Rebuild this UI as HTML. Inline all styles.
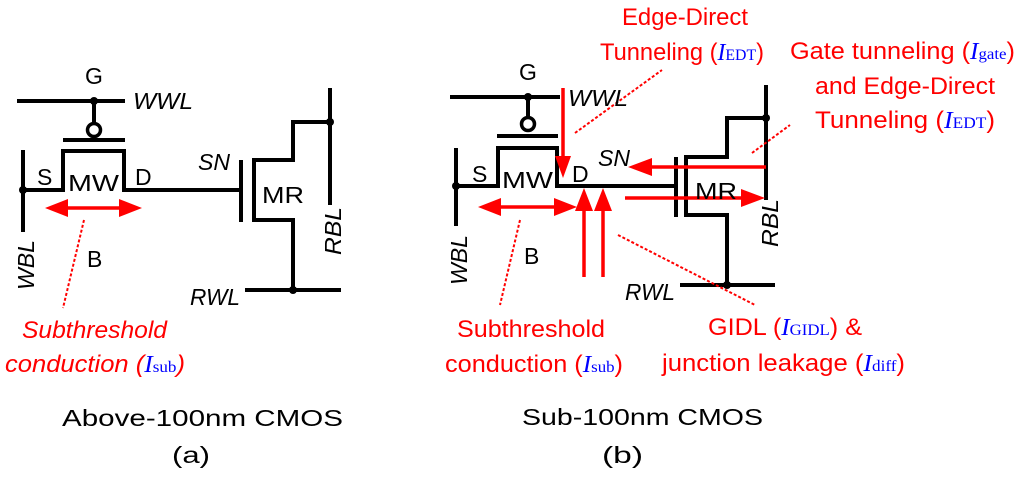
<!DOCTYPE html>
<html><head><meta charset="utf-8"><style>
html,body{margin:0;padding:0;background:#fff;}
svg{display:block;}
text{font-family:"Liberation Sans",sans-serif;}
.k{fill:#000;font-size:23px;}
.ki{fill:#000;font-size:23px;font-style:italic;}
.r{fill:#f00;font-size:24px;}
.b{fill:#00f;font-family:"Liberation Serif",serif;}
</style></head><body>
<svg width="1024" height="477" viewBox="0 0 1024 477" xmlns="http://www.w3.org/2000/svg">
<g stroke="#000" stroke-width="4" fill="none">
<line x1="17" y1="101" x2="125" y2="101"/>
<line x1="94" y1="101" x2="94" y2="124"/>
<circle cx="94" cy="130" r="6.5" stroke-width="3.5"/>
<line x1="63" y1="140" x2="125" y2="140"/>
<polyline points="23,190 63,190 63,151 124,151 124,190 240,190"/>
<line x1="23" y1="150" x2="23" y2="232"/>
<line x1="241" y1="160" x2="241" y2="222"/>
<polyline points="330,122 293,122 293,160 254,160 254,220 293,220 293,290"/>
<line x1="330" y1="88" x2="330" y2="205"/>
<line x1="245" y1="290" x2="341" y2="290"/>
<line x1="450" y1="97" x2="560" y2="97"/>
<line x1="528" y1="97" x2="528" y2="118"/>
<circle cx="528" cy="124" r="6.5" stroke-width="3.5"/>
<line x1="497" y1="136" x2="558" y2="136"/>
<polyline points="456,186 498,186 498,148 557,148 557,186 674,186"/>
<line x1="456" y1="148" x2="456" y2="226"/>
<line x1="676" y1="157" x2="676" y2="217"/>
<polyline points="766,118 727,118 727,157 686,157 686,215 727,215 727,285"/>
<line x1="766" y1="85" x2="766" y2="200"/>
<line x1="680" y1="285" x2="775" y2="285"/>
</g>
<g fill="#000">
<circle cx="94" cy="101" r="4"/><circle cx="23" cy="190" r="4"/><circle cx="330" cy="122" r="4"/><circle cx="293" cy="290" r="4"/>
<circle cx="528" cy="97" r="4"/><circle cx="456" cy="186" r="4"/><circle cx="766" cy="118" r="4"/><circle cx="727" cy="285" r="4"/>
</g>
<g stroke="#f00" stroke-width="3.5" fill="none">
<line x1="60" y1="208" x2="127" y2="208"/>
<line x1="493" y1="207" x2="562" y2="207"/>
<line x1="563" y1="88" x2="563" y2="162"/>
<line x1="584" y1="277" x2="584" y2="204"/>
<line x1="603" y1="277" x2="603" y2="204"/>
<line x1="766" y1="167" x2="645" y2="167"/>
<line x1="625" y1="198" x2="748" y2="198"/>
</g>
<g fill="#f00">
<polygon points="45,208 68,199 68,217"/>
<polygon points="142,208 119,199 119,217"/>
<polygon points="478,207 501,198 501,216"/>
<polygon points="577,207 554,198 554,216"/>
<polygon points="563,178 555,156 571,156"/>
<polygon points="584,188 575,211 593,211"/>
<polygon points="603,188 594,211 612,211"/>
<polygon points="628,167 652,158 652,176"/>
<polygon points="765,198 741,189 741,207"/>
</g>
<g stroke="#f00" stroke-width="2" stroke-dasharray="3,2" fill="none">
<line x1="84" y1="220" x2="63" y2="308"/>
<line x1="520" y1="220" x2="500" y2="305"/>
<line x1="575" y1="133" x2="662" y2="70"/>
<line x1="752" y1="153" x2="790" y2="125"/>
<line x1="618" y1="235" x2="755" y2="305"/>
</g>
<text class="k" x="85" y="84">G</text>
<text class="ki" x="133" y="109" textLength="60" lengthAdjust="spacingAndGlyphs">WWL</text>
<text class="k" x="37" y="185">S</text>
<text class="k" x="68" y="191" font-size="26" textLength="51" lengthAdjust="spacingAndGlyphs">MW</text>
<text class="k" x="135" y="185">D</text>
<text class="ki" x="198" y="170" textLength="32" lengthAdjust="spacingAndGlyphs">SN</text>
<text class="k" x="262" y="203" font-size="26" textLength="42" lengthAdjust="spacingAndGlyphs">MR</text>
<text class="k" x="87" y="267">B</text>
<text class="ki" x="190" y="305" textLength="50" lengthAdjust="spacingAndGlyphs">RWL</text>
<text class="ki" transform="translate(34,290) rotate(-90)" textLength="50" lengthAdjust="spacingAndGlyphs">WBL</text>
<text class="ki" transform="translate(341,255) rotate(-90)" textLength="48" lengthAdjust="spacingAndGlyphs">RBL</text>
<text class="r" font-style="italic" x="22" y="338" textLength="145" lengthAdjust="spacingAndGlyphs">Subthreshold</text>
<text class="r" font-style="italic" x="5" y="372" textLength="180" lengthAdjust="spacingAndGlyphs">conduction (<tspan class="b" font-style="italic">I</tspan><tspan class="b" font-size="16" font-style="normal">sub</tspan>)</text>
<text class="k" x="62" y="426" font-size="31" textLength="281" lengthAdjust="spacingAndGlyphs">Above-100nm CMOS</text>
<text class="k" x="172" y="463" font-size="31" textLength="38" lengthAdjust="spacingAndGlyphs">(a)</text>

<text class="k" x="519" y="80">G</text>
<text class="ki" x="568" y="106" textLength="60" lengthAdjust="spacingAndGlyphs">WWL</text>
<text class="k" x="472" y="182">S</text>
<text class="k" x="502" y="188" font-size="26" textLength="51" lengthAdjust="spacingAndGlyphs">MW</text>
<text class="k" x="572" y="182">D</text>
<text class="ki" x="598" y="166" textLength="32" lengthAdjust="spacingAndGlyphs">SN</text>
<text class="k" x="695" y="199" font-size="26" textLength="42" lengthAdjust="spacingAndGlyphs">MR</text>
<text class="k" x="524" y="264">B</text>
<text class="ki" x="625" y="300" textLength="50" lengthAdjust="spacingAndGlyphs">RWL</text>
<text class="ki" transform="translate(467,285) rotate(-90)" textLength="50" lengthAdjust="spacingAndGlyphs">WBL</text>
<text class="ki" transform="translate(778,247) rotate(-90)" textLength="48" lengthAdjust="spacingAndGlyphs">RBL</text>
<text class="r" x="622" y="25" textLength="126" lengthAdjust="spacingAndGlyphs">Edge-Direct</text>
<text class="r" x="600" y="60" textLength="164" lengthAdjust="spacingAndGlyphs">Tunneling (<tspan class="b" font-style="italic">I</tspan><tspan class="b" font-size="16">EDT</tspan>)</text>
<text class="r" x="790" y="59" textLength="225" lengthAdjust="spacingAndGlyphs">Gate tunneling (<tspan class="b" font-style="italic">I</tspan><tspan class="b" font-size="16">gate</tspan>)</text>
<text class="r" x="815" y="94" textLength="180" lengthAdjust="spacingAndGlyphs">and Edge-Direct</text>
<text class="r" x="815" y="128" textLength="180" lengthAdjust="spacingAndGlyphs">Tunneling (<tspan class="b" font-style="italic">I</tspan><tspan class="b" font-size="16">EDT</tspan>)</text>
<text class="r" x="457" y="337" textLength="148" lengthAdjust="spacingAndGlyphs">Subthreshold</text>
<text class="r" x="445" y="372" textLength="178" lengthAdjust="spacingAndGlyphs">conduction (<tspan class="b" font-style="italic">I</tspan><tspan class="b" font-size="16">sub</tspan>)</text>
<text class="r" x="708" y="335" textLength="154" lengthAdjust="spacingAndGlyphs">GIDL (<tspan class="b" font-style="italic">I</tspan><tspan class="b" font-size="16">GIDL</tspan>) &amp;</text>
<text class="r" x="662" y="371" textLength="243" lengthAdjust="spacingAndGlyphs">junction leakage (<tspan class="b" font-style="italic">I</tspan><tspan class="b" font-size="16">diff</tspan>)</text>
<text class="k" x="522" y="425" font-size="31" textLength="241" lengthAdjust="spacingAndGlyphs">Sub-100nm CMOS</text>
<text class="k" x="602" y="463" font-size="31" textLength="41" lengthAdjust="spacingAndGlyphs">(b)</text>
</svg>
</body></html>
